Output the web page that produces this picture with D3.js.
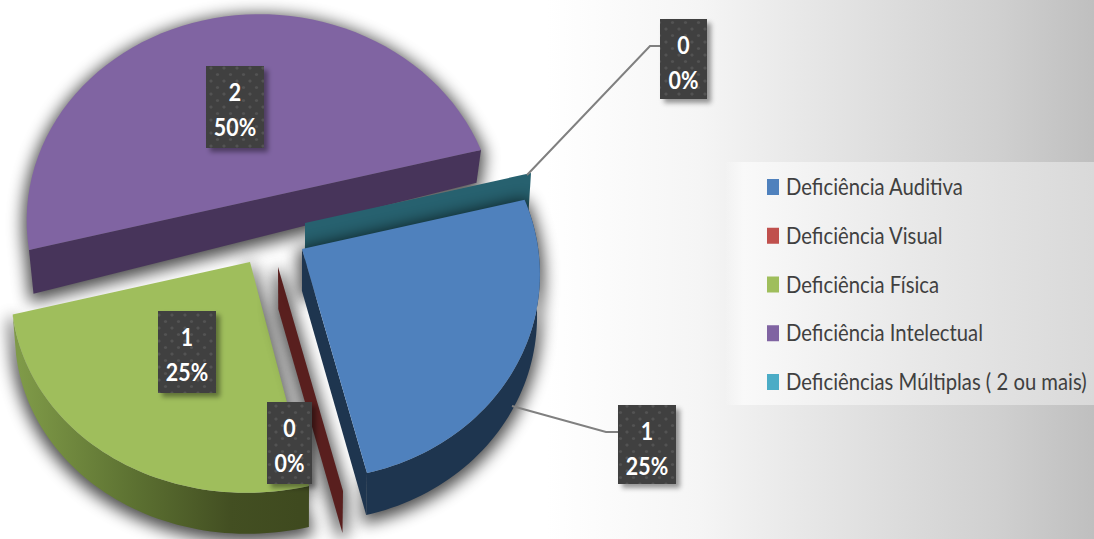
<!DOCTYPE html>
<html><head><meta charset="utf-8">
<script src="https://cdn.jsdelivr.net/npm/d3@7"></script>
<style>html,body{margin:0;padding:0;background:#fff;overflow:hidden}svg{display:block}</style>
</head><body><svg id="c" width="1094" height="539"></svg>
<script>
const categories = ["Deficiência Auditiva","Deficiência Visual","Deficiência Física","Deficiência Intelectual","Deficiências Múltiplas ( 2 ou mais)"];
const values = [1,0,1,2,0];
const percents = ["25%","0%","25%","50%","0%"];
const topColors = ["#4f81bd","#c0504d","#9fbe5c","#8064a2","#4bacc6"];
const wallColors = ["#1e354f","#591f1e","url(#greenWall)","#47345a","#27616f"];

const W=1094,H=539;
// layout: exploded slice centres, axes of the tilted pie plane, perspective, extrusion depth
const centres=[[302,249],[278,267],[250,262],[255,200],[305,223]];
const U=[226,-50], G=-0.11, Vy=224;
const Vx=[65,65,59,65,65];
const radiusU=[.985,1,1.05,1,1];
const depths=[42,42,41,43,43];
const labelBoxes=[[618,405,58,79],[267,402,45,82],[158,311,58,82],[206,66,58,82],[660,19,47,80]];
const leaders=[[[512,406],[606,432],[618,432]],null,null,null,[[527,175],[650,46],[660,46]]];
const legendX=767, legendY=d3.scalePoint().domain(categories).range([187,382]);

const svg=d3.select("#c");
const defs=svg.append("defs");
const bg=defs.append("linearGradient").attr("id","bg").attr("x1",0).attr("x2",1).attr("y1",0).attr("y2",0);
[[0,"#ffffff"],[.5,"#ffffff"],[.64,"#f5f5f5"],[.73,"#e8e8e8"],[.91,"#d0d0d0"],[1,"#bfbfbf"]].forEach(s=>bg.append("stop").attr("offset",s[0]).attr("stop-color",s[1]));
const lg=defs.append("linearGradient").attr("id","legendBg").attr("x1",0).attr("x2",1).attr("y1",0).attr("y2",0);
[[0,"#fbfbfb",0],[.05,"#f9f9f9",1],[.5,"#e9e9e9",1],[1,"#d9d9d9",1]].forEach(s=>lg.append("stop").attr("offset",s[0]).attr("stop-color",s[1]).attr("stop-opacity",s[2]));
const gw=defs.append("linearGradient").attr("id","greenWall").attr("gradientUnits","userSpaceOnUse").attr("x1",20).attr("x2",300).attr("y1",0).attr("y2",0);
[[0,"#7f9a48"],[.4,"#5d7232"],[.75,"#434f22"],[1,"#3f4a1f"]].forEach(s=>gw.append("stop").attr("offset",s[0]).attr("stop-color",s[1]));
const f=defs.append("filter").attr("id","blur").attr("filterUnits","userSpaceOnUse").attr("x",-60).attr("y",-60).attr("width",W+120).attr("height",H+120).attr("color-interpolation-filters","sRGB");
f.append("feGaussianBlur").attr("stdDeviation",8);
const f2=defs.append("filter").attr("id","bs").attr("x","-30%").attr("y","-30%").attr("width","170%").attr("height","170%");
f2.append("feDropShadow").attr("dx",4).attr("dy",4).attr("stdDeviation",2.5).attr("flood-color","#000").attr("flood-opacity",.4);
const pat=defs.append("pattern").attr("id","dots").attr("patternUnits","userSpaceOnUse").attr("width",13).attr("height",13);
pat.append("rect").attr("width",13).attr("height",13).attr("fill","#404040");
[[3,3],[9.5,9.5]].forEach(p=>pat.append("circle").attr("cx",p[0]).attr("cy",p[1]).attr("r",1.6).attr("fill","#525252"));

svg.append("rect").attr("width",W).attr("height",H).attr("fill","url(#bg)");
svg.append("rect").attr("x",725).attr("y",162).attr("width",W-725).attr("height",243).attr("fill","url(#legendBg)");

const pie=d3.pie().value(d=>d).sort(null).startAngle(0).endAngle(2*Math.PI);
const arcs=pie(values);
// Vx/Vy are the projected near radius: the (1+G) factor cancels w at 90 degrees
function pt(i,a){
  const c=centres[i], k=radiusU[i], s=Math.sin(a), co=Math.cos(a), w=1+G*s;
  return [c[0]+(k*U[0]*co+Vx[i]*(1+G)*s)/w, c[1]+(k*U[1]*co+Vy*(1+G)*s)/w];
}
const line=d3.line();
function drop(p,i){
  let d=depths[i];
  if(i===3) d=Math.min(44,33+(p[1]-152)*.11);
  const xs=i===3?-(p[0]-255)*.02:-(p[0]-300)*.012;
  return [p[0]+xs,p[1]+d];
}
const arcPts=(i,a0,a1)=>d3.range(0,61).map(k=>pt(i,a0+(a1-a0)*k/60));

const order=[3,4,2,1,0];
const g=svg.append("g");
function shadow(sl,pts){
  sl.append("path").attr("d",line(pts)+"Z").attr("fill","#000").attr("stroke","#000").attr("stroke-width",8)
    .attr("opacity",.7).attr("transform","translate(0,4)").attr("filter","url(#blur)");
}
order.forEach(i=>{
  const a=arcs[i], c=centres[i], sl=g.append("g");
  const outer=arcPts(i,a.startAngle,a.endAngle);
  if(values[i]===0){
    const o=pt(i,a.startAngle), q=[c,o,drop(o,i),drop(c,i)];
    if(i===1) shadow(sl,q);
    sl.append("path").attr("fill",wallColors[i]).attr("d",line(q)+"Z");
    return;
  }
  if(i===3){
    const q=[outer[0],outer[60],drop(outer[60],i),drop(outer[0],i)];
    shadow(sl,outer.concat(q.slice(2)));
    sl.append("path").attr("fill",wallColors[i]).attr("d",line(q)+"Z");
    sl.append("path").attr("fill",topColors[i]).attr("d",line(outer)+"Z");
    return;
  }
  const wall=outer.concat(outer.map(p=>drop(p,i)).reverse());
  shadow(sl,[c].concat(outer).concat(outer.map(p=>drop(p,i)).reverse()).concat([drop(c,i)]));
  if(i===0) sl.append("path").attr("fill",wallColors[i]).attr("d",line([c,outer[60],drop(outer[60],i),drop(c,i)])+"Z");
  sl.append("path").attr("fill",wallColors[i]).attr("d",line(wall)+"Z");
  sl.append("path").attr("fill",topColors[i]).attr("d",line([c].concat(outer))+"Z");
});

leaders.forEach(l=>{ if(l) svg.append("path").attr("d",line(l)).attr("fill","none").attr("stroke","#808080").attr("stroke-width",2); });

labelBoxes.forEach((b,i)=>{
  const lb=svg.append("g");
  lb.append("rect").attr("x",b[0]).attr("y",b[1]).attr("width",b[2]).attr("height",b[3]).attr("fill","url(#dots)").attr("filter","url(#bs)");
  [[values[i],35],[percents[i],70]].forEach(r=>{
    lb.append("text").attr("transform",`translate(${b[0]+b[2]/2},${b[1]+r[1]}) scale(.93,1.1)`)
      .attr("fill","#fff").attr("font-family","Lato").attr("font-weight",700).attr("font-size",23).attr("text-anchor","middle").text(r[0]);
  });
});

categories.forEach((c,i)=>{
  const y=legendY(c);
  svg.append("rect").attr("x",legendX).attr("y",y-8).attr("width",12).attr("height",16).attr("fill",topColors[i]);
  svg.append("text").attr("transform",`translate(786,${y+8}) scale(.965,1.1)`).attr("font-family","Lato").attr("font-size",21).attr("fill","#404040").text(c);
});
</script></body></html>
